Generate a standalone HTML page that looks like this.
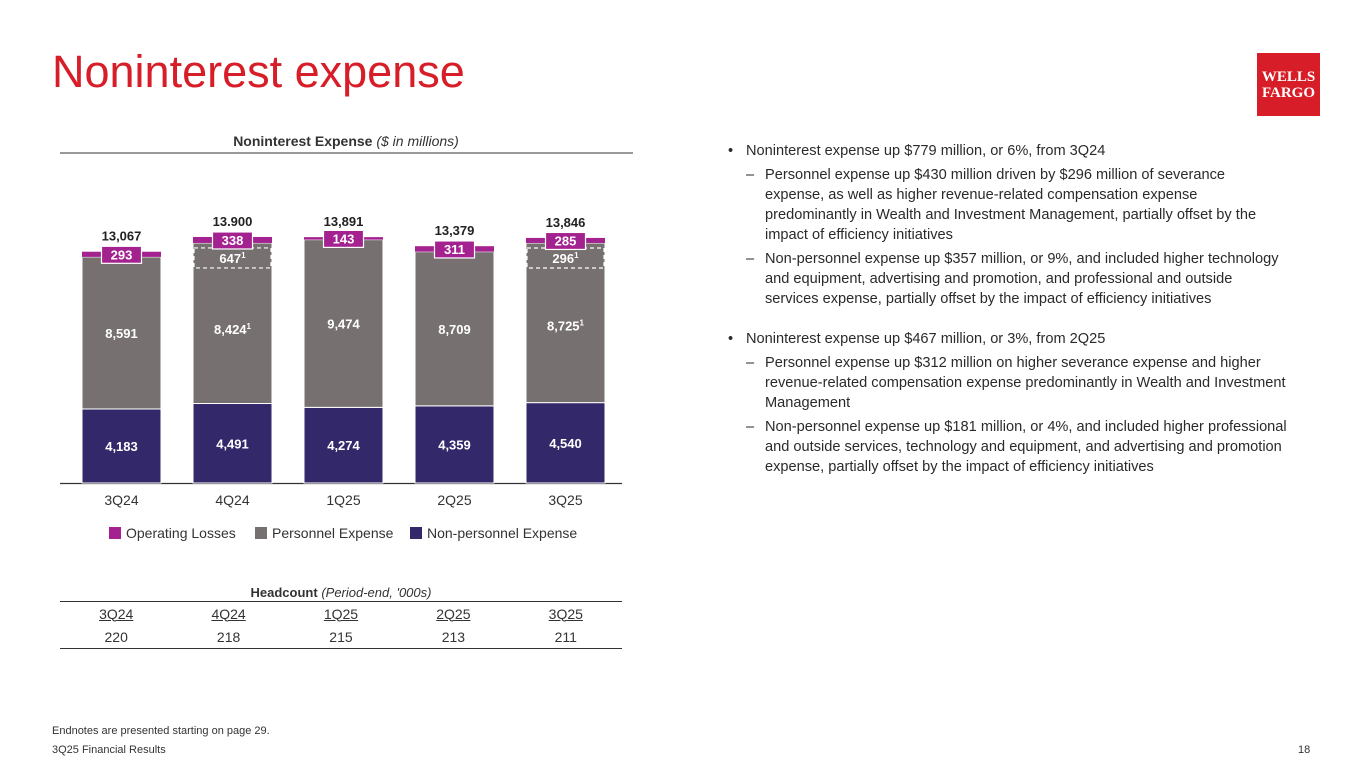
<!DOCTYPE html>
<html><head><meta charset="utf-8">
<style>
body{margin:0;width:1365px;height:768px;background:#fff;font-family:"Liberation Sans",sans-serif;position:relative;overflow:hidden;color:#333}
.abs{position:absolute}
h1{position:absolute;left:52px;top:46px;margin:0;font-weight:normal;font-size:45px;color:#d71e28}
.logo{left:1257px;top:53px;width:63px;height:63px;background:#d71e28;color:#fff;font-family:"Liberation Serif",serif;font-weight:bold;font-size:15px;line-height:16px;text-align:center;display:flex;align-items:center;justify-content:center}
ul{position:absolute;left:728px;top:141px;margin:0;padding:0;width:560px;font-size:14.6px;line-height:20px;color:#2a2a2a;list-style:none}
li.b{position:relative;padding-left:18px;margin-bottom:20px}
li.b:before{content:"•";position:absolute;left:0}
.sub{position:relative;padding-left:19px;margin-top:4px}
.sub:before{content:"–";position:absolute;left:0}
table{position:absolute;left:60px;top:601px;width:562px;border-collapse:collapse;font-size:14px;color:#333}
td{text-align:center;height:21px;padding:1px 0}
</style></head><body>
<h1>Noninterest expense</h1>
<div class="abs logo">WELLS<br>FARGO</div>
<svg class="abs" style="left:0;top:0" width="700" height="560" id="chart" font-family="Liberation Sans, sans-serif">
<text x="346" y="146" text-anchor="middle" font-size="14" font-weight="bold" fill="#333">Noninterest Expense <tspan font-weight="normal" font-style="italic">($ in millions)</tspan></text>
<line x1="60" y1="153" x2="633" y2="153" stroke="#333" stroke-width="1"/>
<line x1="60" y1="483.5" x2="622" y2="483.5" stroke="#333" stroke-width="1.2"/>
<g id="bars"></g>
<g font-size="14" fill="#333">
<rect x="109" y="527" width="12" height="12" fill="#a4228f"/><text x="126" y="538">Operating Losses</text>
<rect x="255" y="527" width="12" height="12" fill="#777070"/><text x="272" y="538">Personnel Expense</text>
<rect x="410" y="527" width="12" height="12" fill="#33296a"/><text x="427" y="538">Non-personnel Expense</text>
</g>
</svg>
<div class="abs" style="left:60px;top:585px;width:562px;text-align:center;font-size:13px;font-weight:bold;color:#333">Headcount <span style="font-weight:normal;font-style:italic">(Period-end, '000s)</span></div>
<table>
<tr style="border-top:1.5px solid #333"><td><u>3Q24</u></td><td><u>4Q24</u></td><td><u>1Q25</u></td><td><u>2Q25</u></td><td><u>3Q25</u></td></tr>
<tr style="border-bottom:1.5px solid #333"><td>220</td><td>218</td><td>215</td><td>213</td><td>211</td></tr>
</table>
<ul>
<li class="b">Noninterest expense up $779 million, or 6%, from 3Q24
<div class="sub">Personnel expense up $430 million driven by $296 million of severance expense, as well as higher revenue-related compensation expense predominantly in Wealth and Investment Management, partially offset by the impact of efficiency initiatives</div>
<div class="sub">Non-personnel expense up $357 million, or 9%, and included higher technology and equipment, advertising and promotion, and professional and outside services expense, partially offset by the impact of efficiency initiatives</div></li>
<li class="b">Noninterest expense up $467 million, or 3%, from 2Q25
<div class="sub">Personnel expense up $312 million on higher severance expense and higher revenue-related compensation expense predominantly in Wealth and Investment Management</div>
<div class="sub">Non-personnel expense up $181 million, or 4%, and included higher professional and outside services, technology and equipment, and advertising and promotion expense, partially offset by the impact of efficiency initiatives</div></li>
</ul>
<div class="abs" style="left:52px;top:725px;font-size:11px;color:#333">Endnotes are presented starting on page 29.</div>
<div class="abs" style="left:52px;top:744px;font-size:11px;color:#333">3Q25 Financial Results</div>
<div class="abs" style="left:1298px;top:744px;font-size:11px;color:#333">18</div>
<script>
const categories=["3Q24","4Q24","1Q25","2Q25","3Q25"];
const nonPersonnel=[4183,4491,4274,4359,4540];
const personnel=[8591,8424,9474,8709,8725];
const severance=[0,647,0,0,296];
const opLosses=[293,338,143,311,285];
const totals=["13,067","13.900","13,891","13,379","13,846"];
const personnelNote=[false,true,false,false,true];
const NS="http://www.w3.org/2000/svg";
const g=document.getElementById('bars');
const base=483, k=0.0177, x0=121.5, step=111, bw=79;
const y=v=>base-v*k;
function mk(t,a){const e=document.createElementNS(NS,t);for(const n in a)e.setAttribute(n,a[n]);g.appendChild(e);return e;}
function fmt(v){return v.toLocaleString('en-US');}
categories.forEach((c,i)=>{
 const cx=x0+i*step, l=cx-bw/2;
 const v1=nonPersonnel[i], v2=personnel[i]+severance[i], v3=opLosses[i];
 const r1=mk('rect',{x:l,y:y(v1),width:bw,height:v1*k,fill:'#33296a',stroke:'#fff','stroke-width':1});
 
 
 const r2=mk('rect',{x:l,y:y(v1+v2),width:bw,height:v2*k,fill:'#777070',stroke:'#fff','stroke-width':1});
 
 
 const r3=mk('rect',{x:l,y:y(v1+v2+v3),width:bw,height:v3*k,fill:'#a4228f'});
 
 
 if(severance[i]){
  const d=mk('rect',{x:l+1,y:y(v1+v2)+5,width:bw-2,height:20,fill:'none',stroke:'#fff','stroke-width':1.2,'stroke-dasharray':'4,3'});
  
  
  const dt=mk('text',{x:cx,y:y(v1+v2)+20,'text-anchor':'middle','font-size':13,'font-weight':'bold',fill:'#fff'});
  dt.innerHTML=fmt(severance[i])+'<tspan font-size="8" dy="-5">1</tspan>';
  
  
 }
 const ly=y(v1+v2+v3/2);
 const lb=mk('rect',{x:cx-20,y:ly-8,width:40,height:17,fill:'#a4228f',stroke:'#fff','stroke-width':1.2});
 
 
 const lt=mk('text',{x:cx,y:ly+5,'text-anchor':'middle','font-size':13,'font-weight':'bold',fill:'#fff'});
 lt.textContent=fmt(v3);
 
 
 const pt=mk('text',{x:cx,y:y(v1+personnel[i]/2)+5,'text-anchor':'middle','font-size':13,'font-weight':'bold',fill:'#fff'});
 pt.innerHTML=fmt(personnel[i])+(personnelNote[i]?'<tspan font-size="8" dy="-5">1</tspan>':'');
 
 
 const nt=mk('text',{x:cx,y:y(v1/2)+5,'text-anchor':'middle','font-size':13,'font-weight':'bold',fill:'#fff'});
 nt.textContent=fmt(v1);
 
 
 const tt=mk('text',{x:cx,y:y(v1+v2+v3)-11,'text-anchor':'middle','font-size':13,'font-weight':'bold',fill:'#222'});
 tt.textContent=totals[i];
 
 
 const xt=mk('text',{x:cx,y:505,'text-anchor':'middle','font-size':14,fill:'#333'});
 xt.textContent=c;
 
 
});
</script>
</body></html>
